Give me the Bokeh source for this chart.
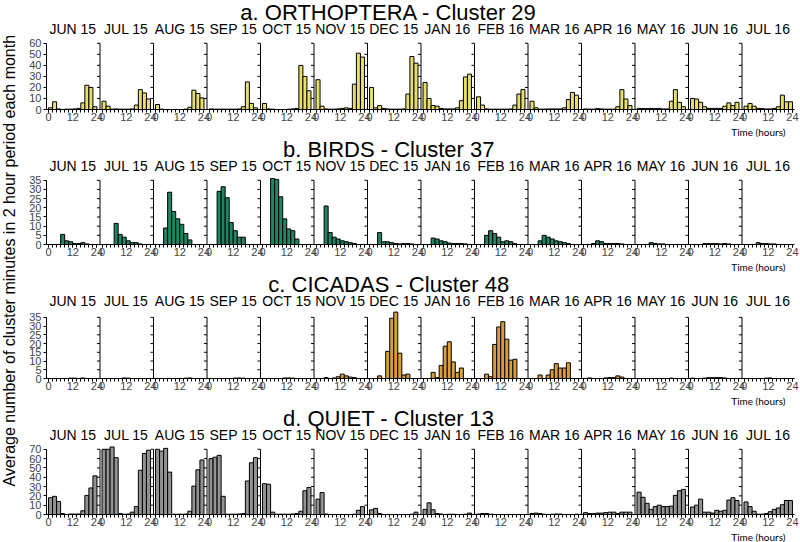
import math
from bokeh.plotting import figure
from bokeh.models import Range1d, FixedTicker, ColumnDataSource, Title
from bokeh.layouts import row, column
from bokeh.embed import file_html
from bokeh.resources import INLINE
from bokeh.core.properties import value

# ---------------- data ----------------
months = ["JUN 15", "JUL 15", "AUG 15", "SEP 15", "OCT 15", "NOV 15", "DEC 15",
          "JAN 16", "FEB 16", "MAR 16", "APR 16", "MAY 16", "JUN 16", "JUL 16"]
bin_start_hours = [0, 2, 4, 6, 8, 10, 12, 14, 16, 18, 20, 22]
x_tick_hours = [0, 12, 24]

row_titles = ["a. ORTHOPTERA - Cluster 29", "b. BIRDS - Cluster 37",
              "c. CICADAS - Cluster 48", "d. QUIET - Cluster 13"]
y_label = "Average number of cluster minutes in 2 hour period each month"
x_label = "Time (hours)"

orthoptera = [
    [1.5, 7, 0.5, 0, 0.3, 0.3, 0.5, 1, 6, 22, 20, 2.5],
    [7.5, 3, 0.3, 0.5, 0.3, 0.3, 0.3, 0.5, 4, 18, 15, 9.5],
    [4.5, 0.3, 0, 0, 0, 0, 0, 0.3, 2, 17.5, 14.5, 10.5],
    [0.5, 0.3, 0.3, 0.3, 0.3, 0.3, 0.3, 0.5, 2.5, 25, 5.5, 1.5],
    [5.5, 0.5, 0.3, 0, 0, 0, 0.3, 0.5, 1, 40, 30, 17],
    [27, 3, 0.5, 0.3, 0.3, 0.5, 1, 1.5, 1, 23, 51, 47.5],
    [20, 1.5, 3.5, 1, 0.5, 0.3, 0.3, 0.3, 0.5, 14, 48, 42],
    [24.5, 10, 3.5, 3, 1, 0.5, 0.5, 0.5, 1.5, 8, 29.5, 32],
    [11.5, 4, 0.5, 0.3, 0.3, 0.3, 0.3, 0.3, 0.5, 4, 14, 18],
    [7.5, 1.5, 0.3, 0.3, 0.5, 0.5, 0.5, 0.5, 1.5, 9, 15.5, 13],
    [0.5, 0.3, 0.3, 0.8, 0.5, 0.3, 0.3, 0.3, 2.5, 18, 9.5, 3.5],
    [1, 0.8, 0.8, 1, 0.8, 1, 0.5, 0.5, 7.5, 18, 6.5, 2.5],
    [10, 9.5, 6.5, 2.5, 1, 1, 1, 1, 3, 6, 3.5, 6.5],
    [3, 5.5, 3, 1, 0.8, 0.5, 0.5, 1, 2.5, 13, 7, 7],
]
birds = [
    [0, 0, 0, 5.5, 2, 1.5, 0.5, 0.5, 1, 0.3, 0, 0],
    [0, 0, 0, 11.5, 5.5, 4, 2, 1, 1, 0.3, 0, 0],
    [0, 0, 9, 28.5, 18, 14, 11, 6, 2.5, 0, 0, 0],
    [0, 0, 29, 31.5, 25.5, 12, 7.5, 4, 4, 0, 0, 0],
    [0, 0, 36, 35.5, 26, 14, 8.5, 7.5, 3, 0, 0, 0],
    [0, 0, 21, 6.5, 4, 3, 2, 1.5, 1, 0.5, 0, 0],
    [0, 0, 6.5, 1.5, 1.5, 1, 0.5, 0.3, 0.5, 0.5, 0.3, 0],
    [0, 0, 3.5, 3, 2, 1.5, 0.8, 0.5, 0.5, 0.5, 0.3, 0],
    [0, 0, 5, 7.5, 6, 4, 1.5, 2, 1.5, 0.5, 0, 0],
    [0, 0, 2, 5, 4, 3, 2, 1.5, 1, 0.5, 0, 0],
    [0, 0, 0.5, 2, 1.5, 0.5, 0.5, 0.5, 0.5, 0.3, 0, 0],
    [0, 0, 0, 1, 0.5, 0.3, 0.3, 0, 0, 0, 0, 0],
    [0, 0, 0, 0.5, 0.5, 0.5, 0.5, 0.3, 0.5, 0.3, 0, 0],
    [0, 0, 0, 1, 0.5, 0.5, 0.3, 0.3, 0, 0, 0, 0],
]
cicadas = [
    [0, 0, 0, 0, 0, 0.2, 0.2, 0, 0.3, 0, 0, 0],
    [0, 0, 0, 0, 0, 0.3, 0.2, 0, 0, 0, 0, 0],
    [0, 0, 0, 0, 0, 0, 0, 0.2, 0.3, 0, 0, 0],
    [0, 0, 0, 0, 0, 0, 0.2, 0.3, 0.2, 0, 0, 0],
    [0, 0, 0, 0, 0, 0.3, 0.3, 0.2, 0, 0, 0, 0],
    [0, 0, 0.5, 0, 0.3, 1, 2.5, 1.5, 0.8, 0.5, 0, 0],
    [0, 0, 1.5, 0, 15.5, 34.5, 38, 14.5, 2, 2.5, 0, 0],
    [0, 0, 3.5, 0.5, 7.5, 18.5, 21, 9.5, 3.5, 6, 0, 0],
    [0, 0, 2.5, 1, 19.5, 29.5, 32.5, 22.5, 10.5, 11, 0, 0],
    [0, 0, 2, 0, 2, 5, 8.5, 6, 6, 9, 0, 0],
    [0, 0.3, 0, 0, 0, 0.3, 0.5, 0.5, 1.5, 0.8, 0, 0],
    [0, 0, 0, 0, 0, 0, 0, 0, 0.2, 0, 0, 0],
    [0.2, 0, 0, 0.2, 0.5, 0.5, 0.5, 0.5, 0.3, 0, 0, 0],
    [0, 0, 0, 0, 0, 0.2, 0.3, 0, 0, 0, 0, 0],
]
quiet = [
    [18, 19.5, 14, 1, 0, 0.5, 0.5, 0.5, 4, 20.5, 28.5, 41.5],
    [70, 70, 72.5, 61, 1, 0.3, 0.5, 2.5, 8.5, 47.5, 65.5, 69],
    [70, 68, 71, 45.5, 0.3, 0.3, 0.3, 0.5, 3.5, 30.5, 48, 58.5],
    [60, 61.5, 63.5, 19.5, 0.3, 0.3, 0.3, 0.5, 1, 36, 55.5, 61],
    [33, 32.5, 2.5, 0.3, 0.3, 0.3, 0.3, 0.5, 1, 3.5, 25.5, 29],
    [16.5, 23.5, 0.5, 0, 0, 0, 0, 0, 0, 0.3, 4.5, 8.5],
    [5, 6.5, 1, 0, 0, 0, 0, 0, 0, 0, 0.3, 2.5],
    [5.5, 12.5, 5, 1, 0.5, 0, 0.3, 0.3, 0, 0, 0.3, 1.5],
    [0.5, 1, 1, 0.3, 0, 0, 0, 0, 0, 0, 0, 0],
    [1, 1.5, 1, 0.3, 0, 0.3, 0.5, 0.5, 0, 0, 0, 0.3],
    [2, 1, 1, 1.5, 1.5, 2, 2.5, 2.5, 1, 2.5, 2.5, 2.5],
    [24, 18.5, 12, 5.5, 8.5, 10, 8.5, 8.5, 9, 20.5, 25.5, 27],
    [8, 10, 16.5, 2.5, 2.5, 1.5, 4.5, 3.5, 4.5, 15.5, 18, 15],
    [13.5, 8.5, 3.5, 0.3, 0.3, 1, 3, 5.5, 7, 10.5, 15, 15],
]

orthoptera_yticks = [0, 10, 20, 30, 40, 50, 60]
birds_yticks = [0, 5, 10, 15, 20, 25, 30, 35]
cicadas_yticks = [0, 5, 10, 15, 20, 25, 30, 35]
quiet_yticks = [0, 10, 20, 30, 40, 50, 60, 70]

# ---------------- style / layout ----------------
FONT = "Liberation Sans"
PANEL = 26.5          # hours allotted to each monthly panel on the shared axis
BIN = 2
LABEL_W = 20
ROW_W = 780
BORDER_L = 26
BORDER_R = 6
BOTTOM_EST = 30       # expected px taken by the x axis + "Time (hours)"
TITLE_X = 168.5       # centre of the row title (hours on the shared axis)


def make_row(title, data, color, yticks, height, title_y, month_y, top_y):
    """title_y / month_y / top_y: px from the top of this row's canvas."""
    n = len(months)
    top_tick = yticks[-1]
    frame_h = height - BOTTOM_EST
    ppu = (frame_h - top_y) / top_tick        # pixels per data unit
    y_top = frame_h / ppu

    left, right, top = [], [], []
    for i, vals in enumerate(data):
        off = i * PANEL
        for h, v in zip(bin_start_hours, vals):
            left.append(off + h)
            right.append(off + h + BIN)
            top.append(v)
    src = ColumnDataSource(dict(left=left, right=right, top=top))

    x_start = -1.0
    x_end = (n - 1) * PANEL + 25.0
    p = figure(width=ROW_W, height=height,
               x_range=Range1d(x_start, x_end), y_range=Range1d(0, y_top),
               output_backend="svg", toolbar_location=None,
               min_border_left=BORDER_L, min_border_right=BORDER_R,
               min_border_top=0, min_border_bottom=0)
    p.outline_line_color = None
    p.xgrid.visible = False
    p.ygrid.visible = False

    p.quad(left="left", right="right", bottom=0, top="top", source=src,
           fill_color=color, line_color="black", line_width=1)

    # panel separators (y-axis lines of panels 2..n) with their tick marks
    sep_x = [i * PANEL - 1 for i in range(1, n)]
    p.segment(x0=sep_x, y0=[0] * len(sep_x), x1=sep_x, y1=[top_tick] * len(sep_x),
              line_color="black", line_width=1)
    tx0, tx1, ty = [], [], []
    for sx in sep_x:
        for t in yticks:
            tx0.append(sx - 1.5)
            tx1.append(sx)
            ty.append(t)
    p.segment(x0=tx0, y0=ty, x1=tx1, y1=ty, line_color="black", line_width=1)

    # left y axis (first panel)
    ya = p.yaxis[0]
    ya.ticker = FixedTicker(ticks=yticks)
    ya.bounds = (0, top_tick)
    ya.major_tick_in = 0
    ya.major_tick_out = 3
    ya.minor_tick_line_color = None
    ya.major_label_text_font = FONT
    ya.major_label_text_font_size = "11px"
    ya.major_label_standoff = 2
    ya.axis_line_color = "black"

    # bottom x axis: 0 / 12 / 24 for every panel, minor ticks every 2 h
    major, minor, over = [], [], {}
    for i in range(n):
        off = i * PANEL
        for h in x_tick_hours:
            major.append(off + h)
            over[off + h] = str(h)
        for h in bin_start_hours + [24]:
            minor.append(off + h)
    xa = p.xaxis[0]
    xa.ticker = FixedTicker(ticks=major, minor_ticks=minor)
    xa.major_label_overrides = over
    xa.major_tick_in = 0
    xa.major_tick_out = 3
    xa.minor_tick_in = 0
    xa.minor_tick_out = 3
    xa.major_label_text_font = FONT
    xa.major_label_text_font_size = "11px"
    xa.major_label_standoff = 0

    # "Time (hours)" under the last panel
    p.add_layout(Title(text=x_label, align="right", offset=9, standoff=0,
                       text_font="Lato", text_font_size="10px",
                       text_font_style="normal", text_color="black"), "below")

    # month names above each panel and the row title
    p.text(x=[i * PANEL + 12 for i in range(n)],
           y=[(frame_h - month_y) / ppu] * n, text=months,
           text_align="center", text_baseline="middle",
           text_font=value(FONT), text_font_size="14px", text_color="black")
    p.text(x=[TITLE_X], y=[(frame_h - title_y) / ppu], text=[title],
           text_align="center", text_baseline="middle",
           text_font=value(FONT), text_font_size="22px", text_color="black")
    return p


ROW_H = [137, 135, 134, 136]
fa = make_row(row_titles[0], orthoptera, "#e6df6c", orthoptera_yticks, ROW_H[0], 12, 28, 42)
fb = make_row(row_titles[1], birds, "#1f8662", birds_yticks, ROW_H[1], 12, 28, 42)
fc = make_row(row_titles[2], cicadas, "#d89e3c", cicadas_yticks, ROW_H[2], 12, 28, 44)
fd = make_row(row_titles[3], quiet, "#939393", quiet_yticks, ROW_H[3], 12, 28, 42)

total_h = sum(ROW_H)
lab = figure(width=LABEL_W, height=total_h, x_range=Range1d(0, 1), y_range=Range1d(0, 1),
             output_backend="svg", toolbar_location=None,
             x_axis_location=None, y_axis_location=None,
             min_border_left=0, min_border_right=0, min_border_top=0, min_border_bottom=0)
lab.outline_line_color = None
lab.xgrid.visible = False
lab.ygrid.visible = False
lab.text(x=[0.45], y=[0.52], text=[y_label], angle=math.pi / 2,
         text_align="center", text_baseline="middle",
         text_font=value(FONT), text_font_size="16px", text_color="black")

p = row(lab, column(fa, fb, fc, fd))

open("out.html", "w").write(file_html(p, INLINE))
